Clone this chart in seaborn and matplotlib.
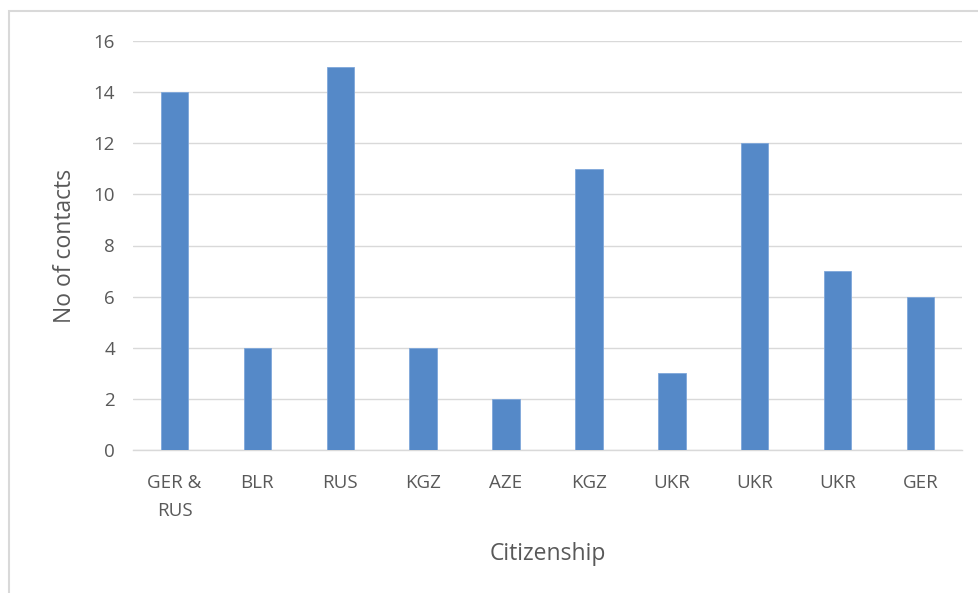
import matplotlib
matplotlib.use("Agg")
import matplotlib.pyplot as plt
import seaborn as sns
import pandas as pd
from matplotlib.patches import Rectangle

categories = ["GER &\nRUS", "BLR", "RUS", "KGZ", "AZE", "KGZ", "UKR", "UKR", "UKR", "GER"]
contacts = [14, 4, 15, 4, 2, 11, 3, 12, 7, 6]
yticks = [0, 2, 4, 6, 8, 10, 12, 14, 16]

df = pd.DataFrame({"pos": list(range(len(categories))), "contacts": contacts})

sns.set_theme(style="white")
plt.rcParams['font.family'] = ['Open Sans', 'DejaVu Sans']

fig = plt.figure(figsize=(9.79, 5.93), dpi=100)
ax = fig.add_axes([133/979, 1-450/593, (962-133)/979, (450-41)/593])

sns.barplot(data=df, x="pos", y="contacts", color="#5589C8", width=0.33,
            edgecolor="#7FA7DA", linewidth=0.6, ax=ax, zorder=3, saturation=1)

ax.set_xlim(-0.5, len(categories) - 0.5)
ax.set_ylim(0, 16)
ax.set_yticks(yticks)
ax.set_yticklabels([str(v) for v in yticks], fontsize=13.5, color="#595959")
ax.set_xticks(range(len(categories)))
ax.set_xticklabels(categories, fontsize=13.5, color="#595959", linespacing=1.75, va="top")
ax.tick_params(axis="y", length=0, pad=13)
ax.tick_params(axis="x", length=0, pad=17)
ax.grid(axis="y", color="#D9D9D9", linewidth=1, zorder=0)
for s in ["top", "right", "left"]:
    ax.spines[s].set_visible(False)
ax.spines["bottom"].set_color("#D9D9D9")
ax.spines["bottom"].set_linewidth(1)
ax.set_axisbelow(True)

ax.set_xlabel("Citizenship", fontsize=16.5, color="#595959", labelpad=16)
ax.set_ylabel("No of contacts", fontsize=16.5, color="#595959", labelpad=12)

fig.patches.append(Rectangle((9/979, -0.05), 1.2, 0.05 + (1 - 11/593),
                             transform=fig.transFigure, fill=False,
                             edgecolor="#D9D9D9", linewidth=1.5))

fig.savefig("out.png", dpi=100)
